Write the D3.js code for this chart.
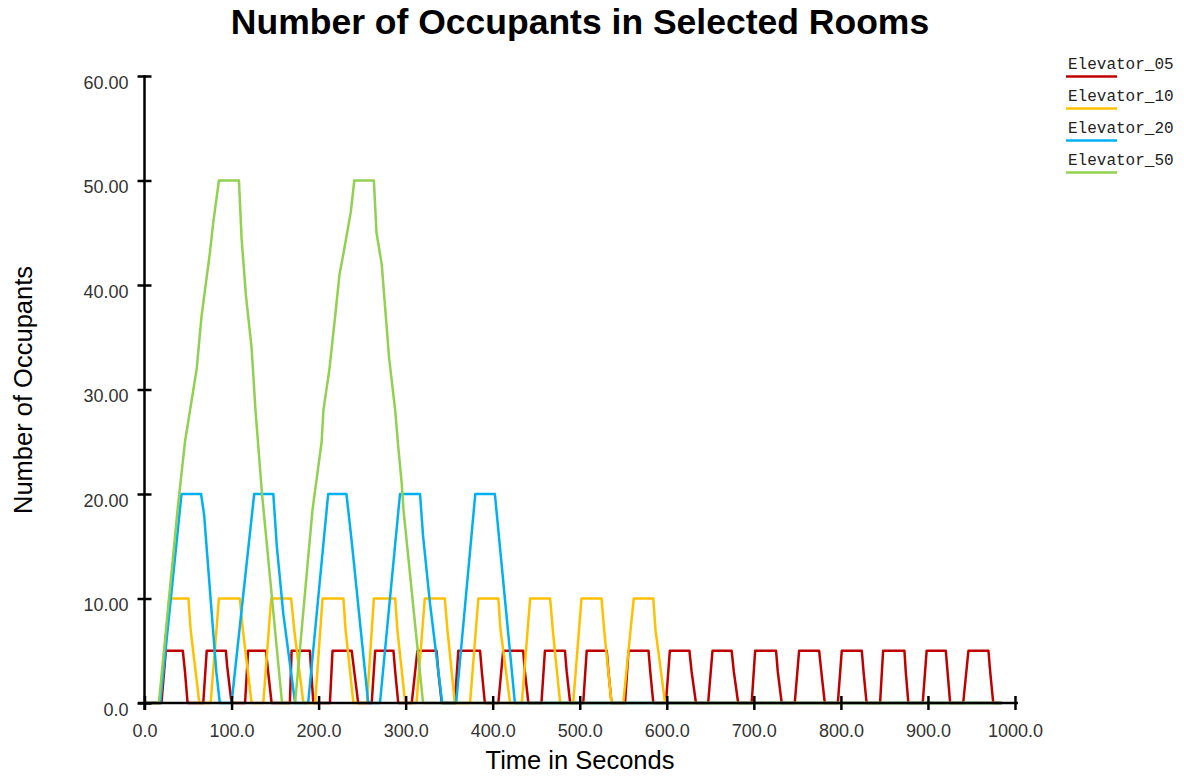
<!DOCTYPE html>
<html>
<head>
<meta charset="utf-8">
<script src="https://cdn.jsdelivr.net/npm/d3@7"></script>
<style>
  html, body { margin: 0; padding: 0; background: #fff; }
  svg { display: block; }
</style>
</head>
<body>
<svg id="chart" width="1184" height="776"></svg>
<script>
// Occupant counts over time, [seconds, occupants]
const elevator05 = [
  [0,0],
  [19.5,0],[24.5,5],[44,5],[46.5,3],[49.5,0],
  [67.5,0],[71.5,5],[93.5,5],[95,3.5],[100,0],
  [115.5,0],[119,5],[139.5,5],[142,3],[146,0],
  [167,0],[169,5],[190,5],[191.5,3],[194,0],
  [213,0],[216,5],[238,5],[241,3],[245.5,0],
  [261,0],[265,5],[286,5],[288,3],[291.5,0],
  [307,0],[313.5,5],[335.5,5],[337.5,3],[341.5,0],
  [356.5,0],[360.5,5],[385.5,5],[387.5,3],[391,0],
  [406.5,0],[412,5],[435,5],[437,3],[441,0],
  [456,0],[460,5],[483,5],[485,3],[489,0],
  [504,0],[508,5],[531,5],[533,3],[536.5,0],
  [552,0],[556,5],[579,5],[581,3],[584.5,0],
  [599,0],[603.5,5],[626,5],[628.5,3],[633.5,0],
  [647.5,0],[652.5,5],[674.5,5],[677,3],[682,0],
  [697.5,0],[701.5,5],[725.5,5],[727.5,3],[732,0],
  [747,0],[752,5],[775,5],[777.5,3],[781.5,0],
  [796.5,0],[801,5],[824,5],[826,3],[829.5,0],
  [845,0],[848.5,5],[873,5],[874.5,3],[877.5,0],
  [894,0],[898.5,5],[920.5,5],[922.5,3],[925.5,0],
  [940.5,0],[946.5,5],[969.5,5],[971.5,3],[975,0],
  [985,0]
];

const elevator10 = [
  [0,0],
  [17.5,0],[28.5,10],[50.5,10],[53,7],[63,0],
  [76,0],[85.5,10],[109.5,10],[113,7],[123,0],
  [136.5,0],[145.5,10],[168.5,10],[172,7],[182.5,0],
  [196,0],[204.5,10],[228.5,10],[231,7],[240,0],
  [255.5,0],[263.5,10],[288,10],[290.5,7],[299.5,0],
  [312.5,0],[322,10],[345,10],[348,7],[356.5,0],
  [374,0],[383.5,10],[406.5,10],[409,7],[420,0],
  [433.5,0],[443,10],[466,10],[469,7],[477.5,0],
  [492.5,0],[502,10],[525,10],[528,7],[536.5,0],
  [550,0],[562,10],[584.5,10],[587,7],[598,0],
  [985,0]
];

const elevator20 = [
  [0,0],
  [18,0],[42.5,20],[65,20],[68.5,18],[75,11],[82.5,3],[86.5,0],
  [100,0],[126,20],[148,20],[152,15],[159.5,8.5],[173,0],
  [188,0],[211,20],[232,20],[238,15.5],[257,0],
  [270.5,0],[293.5,20],[316.5,20],[320,16],[328,9.5],[342,0],
  [358,0],[380,20],[402.5,20],[425.5,0],
  [985,0]
];

const elevator50 = [
  [0,0],
  [16.5,0],[38,18.5],[46.5,25],[60,32],[65.5,37],[75,43],[79,46],[85.5,50],
  [108.5,50],[111.5,44.5],[116.5,39],[123,34],[127.5,28],[135,20],[158,0],
  [173,0],[193,18.5],[203.5,25],[205.5,28],[212.5,32],[219,37],[224,41],[228.5,43],[237,47],[241,50],
  [263.5,50],[266.5,45],[272.5,42],[281,33],[288,28],[291.5,24.5],[295.5,21],[297.5,18.5],[320,0],
  [985,0]
];

const seriesNames = ["Elevator_05", "Elevator_10", "Elevator_20", "Elevator_50"];
const seriesColors = ["#c00000", "#ffc000", "#00b0f0", "#92d050"];
const seriesData = [elevator05, elevator10, elevator20, elevator50];

const xTicks = [0, 100, 200, 300, 400, 500, 600, 700, 800, 900, 1000];
const xTickLabels = ["0.0", "100.0", "200.0", "300.0", "400.0", "500.0", "600.0", "700.0", "800.0", "900.0", "1000.0"];
const yTicks = [0, 10, 20, 30, 40, 50, 60];
const yTickLabels = ["0.0", "10.00", "20.00", "30.00", "40.00", "50.00", "60.00"];

const svg = d3.select("#chart");
const sans = "'Liberation Sans', Arial, sans-serif";

const x = d3.scaleLinear().domain([0, 1000]).range([144.5, 1015]);
const y = d3.scaleLinear().domain([0, 60]).range([703, 76]);

// Title
svg.append("text")
  .attr("x", 580).attr("y", 34)
  .attr("text-anchor", "middle")
  .style("font-family", sans)
  .style("font-weight", "bold")
  .style("font-size", "35.5px")
  .attr("fill", "#000")
  .text("Number of Occupants in Selected Rooms");

// Series lines
const line = d3.line().x(d => x(d[0])).y(d => y(d[1]));
const plot = svg.append("g");
seriesData.forEach((data, i) => {
  plot.append("path")
    .datum(data)
    .attr("d", line)
    .attr("fill", "none")
    .attr("stroke", seriesColors[i])
    .attr("stroke-width", 2.5)
    .attr("stroke-linejoin", "round");
});

// X axis (ticks cross the axis line)
const xAxis = svg.append("g")
  .attr("transform", `translate(0,${y(0)})`)
  .call(d3.axisBottom(x).tickValues(xTicks).tickSizeOuter(0)
    .tickFormat((d, i) => xTickLabels[i]));
xAxis.select(".domain").remove();
xAxis.append("line")
  .attr("x1", 138).attr("x2", 1018)
  .attr("stroke", "#000").attr("stroke-width", 2.5);
xAxis.selectAll(".tick line")
  .attr("y1", -7).attr("y2", 7)
  .attr("stroke", "#000").attr("stroke-width", 2.5);
xAxis.selectAll(".tick text")
  .attr("y", 21).attr("dy", 0)
  .attr("dominant-baseline", "auto")
  .attr("transform", "translate(0,13)")
  .style("font-family", sans).style("font-size", "18px")
  .attr("fill", "#333");

// Y axis
const yAxis = svg.append("g")
  .attr("transform", `translate(${x(0)},0)`)
  .call(d3.axisLeft(y).tickValues(yTicks).tickSizeOuter(0)
    .tickFormat((d, i) => yTickLabels[i]));
yAxis.select(".domain").remove();
yAxis.append("line")
  .attr("y1", y(60) - 1).attr("y2", y(0) + 7)
  .attr("stroke", "#000").attr("stroke-width", 2.5);
yAxis.selectAll(".tick line")
  .attr("x1", -7).attr("x2", 7)
  .attr("stroke", "#000").attr("stroke-width", 2.5);
yAxis.selectAll(".tick text")
  .attr("x", -16).attr("dy", "0.95em")
  .attr("transform", "translate(0,-5)")
  .style("font-family", sans).style("font-size", "18px")
  .attr("fill", "#333");

// Axis titles
svg.append("text")
  .attr("x", 580).attr("y", 769)
  .attr("text-anchor", "middle")
  .style("font-family", sans).style("font-size", "25.5px")
  .attr("fill", "#000")
  .text("Time in Seconds");

svg.append("text")
  .attr("transform", "translate(32,390) rotate(-90)")
  .attr("text-anchor", "middle")
  .style("font-family", sans).style("font-size", "25.5px")
  .attr("fill", "#000")
  .text("Number of Occupants");

// Legend
const legend = svg.append("g");
seriesNames.forEach((name, i) => {
  const g = legend.append("g").attr("transform", `translate(1066,${69 + i * 32})`);
  g.append("text")
    .attr("x", 2).attr("y", 0)
    .style("font-family", "'Liberation Mono', 'Courier New', monospace")
    .style("font-size", "16px")
    .attr("fill", "#222")
    .text(name);
  g.append("line")
    .attr("x1", 0).attr("x2", 51)
    .attr("y1", 7.5).attr("y2", 7.5)
    .attr("stroke", seriesColors[i]).attr("stroke-width", 2.5);
});
</script>
</body>
</html>
